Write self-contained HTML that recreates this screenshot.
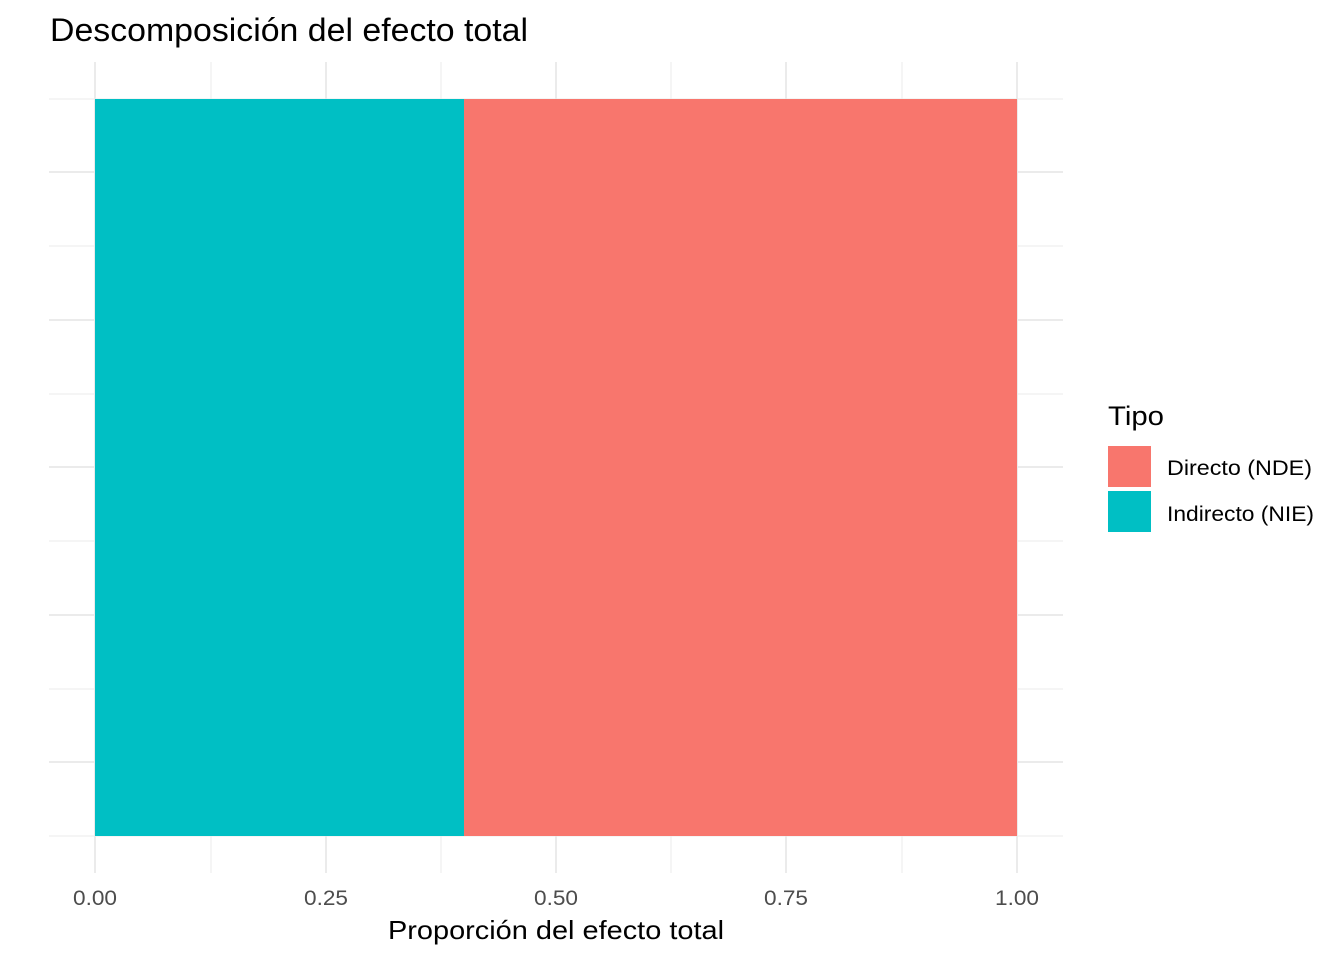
<!DOCTYPE html>
<html><head><meta charset="utf-8"><style>body{margin:0;background:#fff}</style></head><body>
<svg width="1344" height="960" xmlns="http://www.w3.org/2000/svg" font-family="Liberation Sans, sans-serif">
<rect width="1344" height="960" fill="#fff"/>
<g stroke="#ebebeb" stroke-width="1">
<line x1="49" x2="1063" y1="99" y2="99"/><line x1="49" x2="1063" y1="246" y2="246"/><line x1="49" x2="1063" y1="394" y2="394"/><line x1="49" x2="1063" y1="541" y2="541"/><line x1="49" x2="1063" y1="689" y2="689"/><line x1="49" x2="1063" y1="836" y2="836"/>
<line y1="62" y2="873" x1="211" x2="211"/><line y1="62" y2="873" x1="441" x2="441"/><line y1="62" y2="873" x1="671" x2="671"/><line y1="62" y2="873" x1="902" x2="902"/>
</g>
<g stroke="#ebebeb" stroke-width="2">
<line x1="49" x2="1063" y1="172" y2="172"/><line x1="49" x2="1063" y1="320" y2="320"/><line x1="49" x2="1063" y1="467" y2="467"/><line x1="49" x2="1063" y1="615" y2="615"/><line x1="49" x2="1063" y1="762" y2="762"/>
<line y1="62" y2="873" x1="95" x2="95"/><line y1="62" y2="873" x1="326" x2="326"/><line y1="62" y2="873" x1="556" x2="556"/><line y1="62" y2="873" x1="786" x2="786"/><line y1="62" y2="873" x1="1017" x2="1017"/>
</g>
<rect x="95" y="99" width="369" height="737" fill="#00BFC4"/>
<rect x="464" y="99" width="553" height="737" fill="#F8766D"/>
<g font-size="21" fill="#4d4d4d" text-anchor="middle">
<text x="95" y="905" textLength="44" lengthAdjust="spacingAndGlyphs">0.00</text><text x="326" y="905" textLength="44" lengthAdjust="spacingAndGlyphs">0.25</text><text x="556" y="905" textLength="44" lengthAdjust="spacingAndGlyphs">0.50</text><text x="786" y="905" textLength="44" lengthAdjust="spacingAndGlyphs">0.75</text><text x="1017" y="905" textLength="44" lengthAdjust="spacingAndGlyphs">1.00</text>
</g>
<text x="388" y="939" font-size="26" fill="#000" textLength="336" lengthAdjust="spacingAndGlyphs">Proporción del efecto total</text>
<text x="50" y="41" font-size="32" fill="#000" textLength="478" lengthAdjust="spacingAndGlyphs">Descomposición del efecto total</text>
<text x="1108" y="425" font-size="27" fill="#000" textLength="56" lengthAdjust="spacingAndGlyphs">Tipo</text>
<rect x="1108" y="446" width="43" height="41" fill="#F8766D"/>
<rect x="1108" y="491" width="43" height="41" fill="#00BFC4"/>
<text x="1167" y="475" font-size="21" fill="#000" textLength="145" lengthAdjust="spacingAndGlyphs">Directo (NDE)</text>
<text x="1167" y="521" font-size="21" fill="#000" textLength="147" lengthAdjust="spacingAndGlyphs">Indirecto (NIE)</text>
</svg>
</body></html>
